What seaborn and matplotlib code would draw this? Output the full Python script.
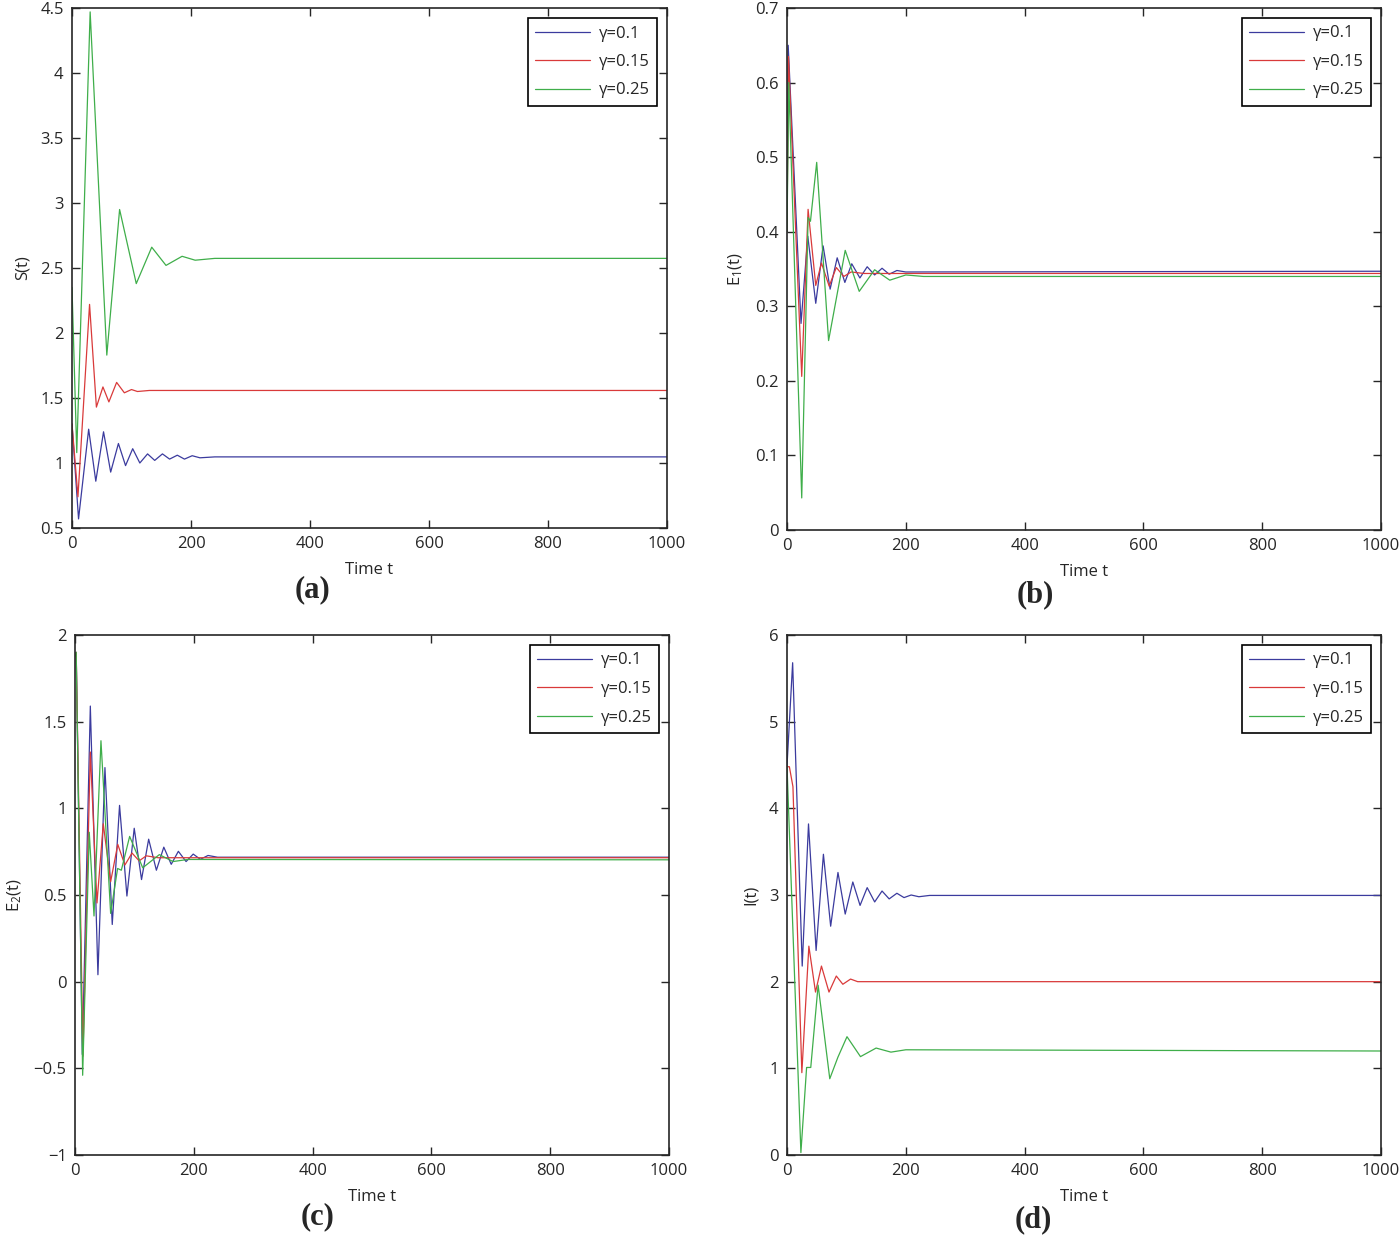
import matplotlib
matplotlib.use("Agg")
import matplotlib.pyplot as plt
from matplotlib.ticker import MultipleLocator, FuncFormatter
import seaborn as sns

# values (turning points of each curve)
# panel (a) S(t)
a_t_blue = [0, 11, 28, 40, 53, 65, 78, 90, 102, 114, 127, 139, 152, 164, 177, 189, 202, 215, 240, 1000]
a_v_blue = [1.3, 0.57, 1.26, 0.86, 1.24, 0.93, 1.15, 0.98, 1.11, 1.0, 1.07, 1.02, 1.07, 1.03, 1.06, 1.03, 1.056, 1.04, 1.047, 1.047]
a_t_red = [0, 10, 29.5, 41, 52, 62, 75, 88, 100, 110, 130, 1000]
a_v_red = [1.3, 0.74, 2.22, 1.43, 1.585, 1.47, 1.62, 1.54, 1.565, 1.55, 1.558, 1.558]
a_t_green = [0, 8, 30.5, 58.5, 80, 108, 134, 158, 185, 207, 240, 1000]
a_v_green = [2.35, 1.08, 4.47, 1.83, 2.95, 2.38, 2.66, 2.52, 2.59, 2.56, 2.574, 2.574]

# panel (b) E1(t)
b_t_blue = [0, 2, 23.6, 35, 48.4, 60.8, 72.6, 84.5, 97.4, 109, 122.7, 135, 147.5, 160, 172, 185, 200, 1000]
b_v_blue = [0.4, 0.65, 0.277, 0.394, 0.304, 0.381, 0.323, 0.365, 0.332, 0.357, 0.338, 0.353, 0.342, 0.351, 0.343, 0.348, 0.346, 0.347]
b_t_red = [0, 2.5, 24.8, 35.5, 48.4, 58, 71, 83, 95.7, 108, 130, 1000]
b_v_red = [0.4, 0.635, 0.206, 0.43, 0.328, 0.358, 0.327, 0.352, 0.340, 0.346, 0.344, 0.344]
b_t_green = [0, 3, 24.8, 35.5, 39.5, 50, 70, 98, 121.6, 147.5, 173, 200, 230, 1000]
b_v_green = [0.4, 0.6, 0.043, 0.419, 0.414, 0.493, 0.254, 0.375, 0.32, 0.349, 0.335, 0.342, 0.340, 0.340]

# panel (c) E2(t)
c_t_blue = [0, 2, 12.3, 25.8, 38.6, 50.4, 62.7, 75, 87.4, 99.7, 112, 124, 137, 149.5, 162, 174, 187, 199, 211, 224, 240, 1000]
c_v_blue = [1.88, 1.9, -0.42, 1.59, 0.04, 1.235, 0.33, 1.017, 0.494, 0.885, 0.589, 0.822, 0.643, 0.776, 0.677, 0.752, 0.693, 0.736, 0.706, 0.728, 0.718, 0.718]
c_t_red = [0, 2, 13.4, 25.8, 37, 47.6, 60, 72, 84, 96, 108, 120, 140, 1000]
c_v_red = [1.88, 1.9, -0.43, 1.325, 0.454, 0.911, 0.577, 0.792, 0.673, 0.742, 0.697, 0.726, 0.715, 0.715]
c_t_green = [0, 2, 12.9, 24, 32, 43.7, 60, 71.7, 78, 92, 114, 142, 165, 190, 1000]
c_v_green = [1.88, 1.9, -0.54, 0.862, 0.379, 1.39, 0.394, 0.653, 0.643, 0.838, 0.657, 0.733, 0.693, 0.705, 0.703]

# panel (d) I(t)
d_t_blue = [0, 9.5, 25.6, 36.2, 49, 61.3, 73.5, 85.8, 98, 110.8, 123, 135, 147.6, 160, 172, 185, 197, 209, 222, 240, 1000]
d_v_blue = [4.49, 5.68, 2.18, 3.82, 2.36, 3.47, 2.64, 3.26, 2.78, 3.15, 2.88, 3.085, 2.92, 3.046, 2.955, 3.02, 2.97, 3.0, 2.98, 2.995, 2.995]
d_t_red = [0, 4, 10, 25, 36.8, 48, 58, 70.7, 83, 94, 107, 119, 140, 1000]
d_v_red = [4.48, 4.48, 4.25, 0.95, 2.41, 1.88, 2.18, 1.88, 2.065, 1.97, 2.03, 2.0, 2.0, 2.0]
d_t_green = [0, 23.4, 33, 40, 52.4, 72, 85.8, 101, 123.7, 150, 175, 200, 1000]
d_v_green = [4.49, 0.028, 1.01, 1.01, 1.96, 0.88, 1.13, 1.365, 1.135, 1.234, 1.187, 1.214, 1.2]

labels = ["\u03b3=0.1", "\u03b3=0.15", "\u03b3=0.25"]
colors = ["#3b3b9e", "#d93a3a", "#3fae4a"]


def fmt(v, pos):
    return ("%g" % v).replace("-", "\u2212")


def draw_panel(ax, series, ylim, ystep, ylabel):
    for (t, v), lab, col in zip(series, labels, colors):
        sns.lineplot(x=t, y=v, ax=ax, color=col, linewidth=0.9, label=lab,
                     sort=False, estimator=None)
    ax.set_xlim(0, 1000)
    ax.set_ylim(*ylim)
    ax.xaxis.set_major_locator(MultipleLocator(200))
    ax.yaxis.set_major_locator(MultipleLocator(ystep))
    ax.yaxis.set_major_formatter(FuncFormatter(fmt))
    ax.tick_params(direction="in", length=6, width=1, top=True, right=True,
                   labelsize=12, pad=6)
    for sp in ax.spines.values():
        sp.set_linewidth(1.2)
        sp.set_visible(True)
    ax.set_xlabel("Time t", fontsize=12, labelpad=7)
    ax.set_ylabel(ylabel, fontsize=12, labelpad=7)
    leg = ax.legend(loc="upper right", bbox_to_anchor=(1.0, 1.0), fontsize=12,
                    handlelength=3.3, labelspacing=0.75, frameon=True,
                    fancybox=False, framealpha=1, borderpad=0.45,
                    borderaxespad=0.6, handletextpad=0.5)
    leg.get_frame().set_edgecolor("black")
    leg.get_frame().set_linewidth(1.2)


sns.set_style("ticks")
plt.rcParams["font.family"] = ["Open Sans", "DejaVu Sans"]

fig = plt.figure(figsize=(13.99, 12.45), dpi=100)
W, H = 1399, 1245


def box(l, t, r, b):
    return [l / W, 1 - b / H, (r - l) / W, (b - t) / H]


ax_a = fig.add_axes(box(72, 8, 667, 528))
ax_b = fig.add_axes(box(787, 8, 1381, 530))
ax_c = fig.add_axes(box(75, 635, 669, 1155))
ax_d = fig.add_axes(box(787, 635, 1381, 1155))

draw_panel(ax_a, [(a_t_blue, a_v_blue), (a_t_red, a_v_red), (a_t_green, a_v_green)],
           (0.5, 4.5), 0.5, "S(t)")
draw_panel(ax_b, [(b_t_blue, b_v_blue), (b_t_red, b_v_red), (b_t_green, b_v_green)],
           (0, 0.7), 0.1, r"$\mathregular{E_1(t)}$")
draw_panel(ax_c, [(c_t_blue, c_v_blue), (c_t_red, c_v_red), (c_t_green, c_v_green)],
           (-1, 2), 0.5, r"$\mathregular{E_2(t)}$")
draw_panel(ax_d, [(d_t_blue, d_v_blue), (d_t_red, d_v_red), (d_t_green, d_v_green)],
           (0, 6), 1, "I(t)")

for txt, x, y in [("(a)", 313, 590), ("(b)", 1035, 595), ("(c)", 318, 1217), ("(d)", 1033, 1220)]:
    fig.text(x / W, 1 - y / H, txt, ha="center", va="center", fontsize=22,
             fontweight="bold", family=["Liberation Serif", "DejaVu Serif"])

fig.savefig("out.png", dpi=100)
